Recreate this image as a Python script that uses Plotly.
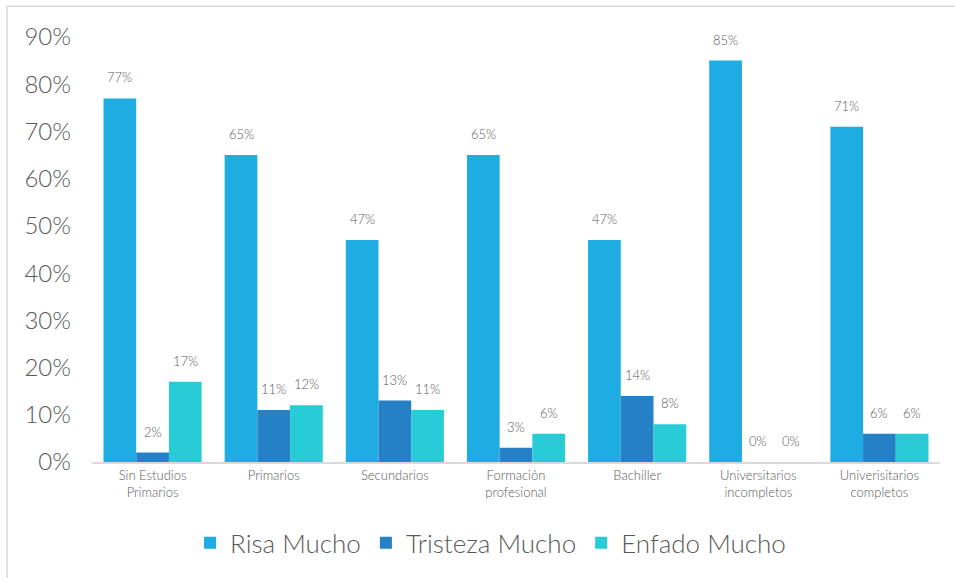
import plotly.graph_objects as go

categories = [
    "Sin Estudios<br>Primarios",
    "Primarios",
    "Secundarios",
    "Formación<br>profesional",
    "Bachiller",
    "Universitarios<br>incompletos",
    "Univerisitarios<br>completos",
]
risa = [0.77, 0.65, 0.47, 0.65, 0.47, 0.85, 0.71]
tristeza = [0.02, 0.11, 0.13, 0.03, 0.14, 0.00, 0.06]
enfado = [0.17, 0.12, 0.11, 0.06, 0.08, 0.00, 0.06]

series = [
    ("Risa Mucho", risa, "#1FACE3"),
    ("Tristeza Mucho", tristeza, "#2580C6"),
    ("Enfado Mucho", enfado, "#28CCD6"),
]

FONT = "Lato"
GREY = "#595959"
WEIGHT = 300

W, H = 955, 578
ML, MR, MT, MB = 92, 15, 37, 114
BARGAP = 0.19

pw = W - ML - MR
ph = H - MT - MB

fig = go.Figure()
for name, vals, color in series:
    fig.add_trace(go.Bar(
        x=categories, y=vals, name=name,
        marker=dict(color=color, line=dict(width=0)),
        cliponaxis=False,
    ))

# value labels above each bar, shifted to the bar's slot inside its group
slot = pw / len(categories) * (1 - BARGAP) / len(series)
for i, (name, vals, color) in enumerate(series):
    offset = (i - (len(series) - 1) / 2) * slot
    for cat, v in zip(categories, vals):
        fig.add_annotation(
            x=cat, y=v, xref="x", yref="y",
            text=f"{v:.0%}", showarrow=False,
            xshift=offset, yshift=11, yanchor="bottom",
            font=dict(family=FONT, size=13, color=GREY, weight=WEIGHT),
        )

# light frame around the chart area
fig.add_shape(
    type="rect", xref="paper", yref="paper",
    x0=(7 - ML) / pw, x1=(W + 5 - ML) / pw,
    y0=(H - MB - (H + 5)) / ph, y1=(H - MB - 6) / ph,
    line=dict(color="#D9D9D9", width=1.5), fillcolor="rgba(0,0,0,0)",
    layer="below",
)

fig.update_layout(
    width=W, height=H,
    margin=dict(l=ML, r=MR, t=MT, b=MB),
    plot_bgcolor="white", paper_bgcolor="white",
    barmode="group", bargap=BARGAP, bargroupgap=0,
    font=dict(family=FONT, color=GREY, weight=WEIGHT),
    showlegend=True,
    legend=dict(
        orientation="h", x=0.47, xanchor="center", y=-0.19, yanchor="middle",
        font=dict(family=FONT, size=26, color=GREY, weight=WEIGHT),
        itemwidth=30, traceorder="normal",
    ),
    xaxis=dict(
        showline=True, linecolor="#D9D9D9", linewidth=2,
        ticks="", tickfont=dict(family=FONT, size=13, color=GREY, weight=WEIGHT),
        showgrid=False,
    ),
    yaxis=dict(
        range=[0, 0.9], dtick=0.1, tickformat=".0%",
        showgrid=False, zeroline=False, showline=False,
        tickfont=dict(family=FONT, size=24, color=GREY, weight=WEIGHT),
        ticklabelstandoff=20,
    ),
)

fig.write_html("out.html")
